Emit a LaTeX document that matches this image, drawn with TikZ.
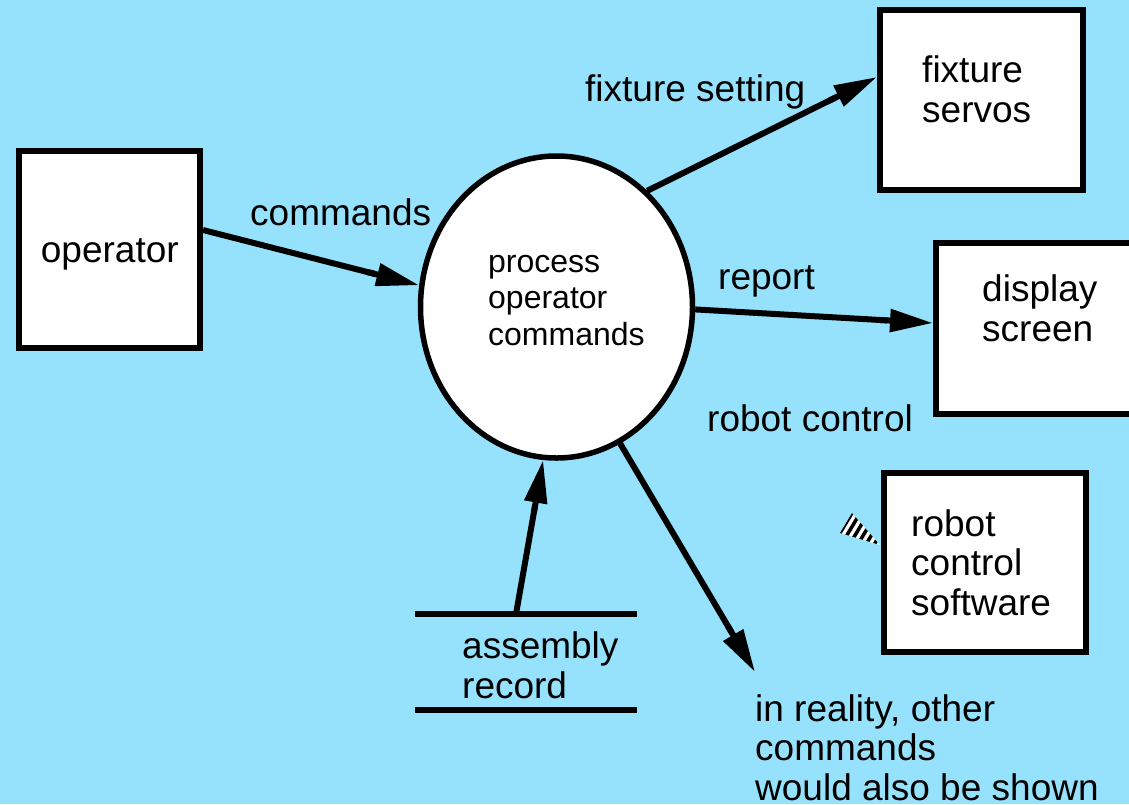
\documentclass[tikz,border=0pt]{standalone}
\usepackage{fontspec}
\setmainfont{Liberation Sans}
\usetikzlibrary{arrows.meta,shapes.geometric}
\definecolor{skybg}{RGB}{150,226,252}

\begin{document}
\begin{tikzpicture}[x=1pt,y=-1pt,
  every node/.style={inner sep=0pt},
  big/.style={font=\fontsize{37}{39.5}\selectfont, align=left, anchor=base west},
  small/.style={font=\fontsize{32}{36.5}\selectfont, align=left, anchor=base west},
  entity/.style={draw, line width=6pt, fill=white, rectangle},
  flow/.style={line width=6pt, -{Butt Cap[sep=3pt]Triangle[length=43pt,width=22pt]}},
  storeline/.style={line width=6pt}
]
% canvas
\fill[skybg] (0,0) rectangle (1129,804);
\useasboundingbox (0,0) rectangle (1129,804);

% external entities
\node[entity, minimum width=181pt, minimum height=197pt] (op)   at (109.5,249.5) {};
\node[entity, minimum width=203pt, minimum height=180pt] (fix)  at (981.5,100) {};
\node[entity, minimum width=204pt, minimum height=171pt] (disp) at (1038,328.5) {};
\node[entity, minimum width=202pt, minimum height=179pt] (rcs)  at (985,562.5) {};

% process bubble
\node[draw, ellipse, line width=5.5pt, fill=white, minimum width=272pt, minimum height=302pt] (proc) at (556.5,307) {};

% data store
\node[minimum width=222pt, minimum height=96pt, outer sep=0pt] (store) at (526,662) {};
\draw[storeline] (store.north west) -- (store.north east);
\draw[storeline] (store.south west) -- (store.south east);

% texts (multi-line nodes are placed by the baseline of their last line)
\node[big] (optext)   at (40.7,262) {operator};
\node[small] (proctext) at (488,345) {process\\operator\\commands};
\node[big] (fixtext)  at (922,122)  {fixture\\servos};
\node[big] (disptext) at (982,341) {display\\screen};
\node[big] (rcstext)  at (911,615) {robot\\control\\software};
\node[big] (storetext) at (462,698) {assembly\\record};
\node[big] (lblcmd)   at (250,225) {commands};
\node[big] (lblfix)   at (585,101) {fixture setting};
\node[big] (lblrep)   at (718,289) {report};
\node[big] (lblrob)   at (707,431) {robot control};
\node[big] (note)     at (755,800) {in reality, other\\commands\\would also be shown};

% data flows
\coordinate (noteend) at (755,672);
\draw[flow] ([yshift=19.5pt]op.east) -- (proc.171);
\draw[flow] (proc.52.6) -- ([yshift=23pt]fix.west);
\draw[flow] (proc.-1) -- ([yshift=5.5pt]disp.west);
\draw[flow] ([xshift=-10pt]store.north) -- (proc.265.7);
\draw[flow] (proc.295) -- (noteend);

% hatched stray arrowhead beside the software box
\begin{scope}
  \clip (852,513) -- (840,533) -- (880,545) -- cycle;
  \fill[white] (830,505) rectangle (885,550);
  \foreach \i in {0,...,7}
    \draw[line width=3.5pt] ({846+7*\i+24},{523+2*\i-40}) -- ({846+7*\i-24},{523+2*\i+40});
\end{scope}
\end{tikzpicture}
\end{document}
